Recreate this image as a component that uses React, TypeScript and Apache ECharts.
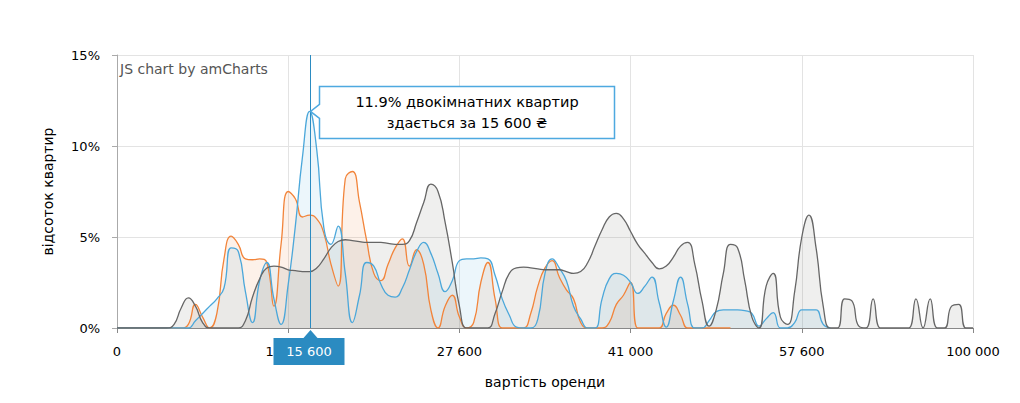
import React, { useEffect, useRef } from "react";
import * as echarts from "echarts";

// x positions are price categories (index along the price axis)
const tickLabels = ["0", "14 000", "27 600", "41 000", "57 600", "100 000"];
const labelEvery = 24;
const cursorIndex = 27;
const cursorPrice = "15 600";
const cursorValue = 11.9;

const grayValues = [
  0, 0, 0, 0, 0, 0, 0, 0, 0.2, 1.1,
  1.65, 1.2, 0.3, 0, 0, 0, 0, 0, 0.4, 1.7,
  2.7, 3.3, 3.4, 3.35, 3.2, 3.15, 3.1, 3.1, 3.3, 3.8,
  4.4, 4.75, 4.85, 4.8, 4.75, 4.7, 4.7, 4.7, 4.65, 4.6,
  4.6, 4.8, 5.8, 6.9, 7.9, 7.5, 5.8, 3.6, 1.2, 0,
  0, 0, 0, 0.8, 2.0, 3.0, 3.3, 3.35, 3.3, 3.25,
  3.2, 3.2, 3.2, 3.1, 3.0, 3.1, 3.6, 4.5, 5.4, 6.1,
  6.3, 6.0, 5.3, 4.6, 4.1, 3.6, 3.25, 3.4, 3.9, 4.5,
  4.7, 3.5, 1.5, 0.1, 1.0, 3.0, 4.6, 4.4, 2.6, 0.6,
  0, 2.3, 3.0, 0.6, 0.2, 2.0, 5.0, 6.2, 4.4, 1.2,
  0, 0, 1.6, 1.5, 0.1, 0, 1.6, 0, 0, 0,
  0, 0, 1.6, 0, 1.6, 0, 0, 1.2, 1.3, 0,
  0,
];

const orangeValues = [
  0, 0, 0, 0, 0, 0, 0, 0, 0, 0,
  0.2, 1.3, 0.6, 0, 0.8, 3.8, 5.05, 4.6, 3.8, 3.75,
  3.8, 3.6, 1.2, 4.6, 7.5, 7.1, 6.1, 6.2, 6.0, 5.2,
  3.5, 2.3, 8.2, 8.6, 6.9, 4.8, 3.0, 2.6, 3.5, 4.4,
  4.9, 3.4, 4.3, 3.5, 1.0, 0, 1.2, 1.8, 0.6, 0,
  0.3, 2.5, 3.6, 1.6, 0, 0, 0, 0, 0.8, 2.3,
  3.3, 3.7, 2.8, 2.1, 1.6, 0.3, 0, 0, 0, 0.3,
  1.3, 1.8, 2.5, 0, 0, 0, 0, 0.8, 1.25, 0.7,
  0, 0, 0, 0, 0, 0, 0,
];

const blueValues = [
  0, 0, 0, 0, 0, 0, 0, 0, 0, 0,
  0, 0.4, 0.8, 1.2, 1.6, 2.2, 4.4, 4.2, 2.0, 0.3,
  2.6, 3.6, 1.6, 0.2, 2.4, 5.6, 9.4, 11.9, 9.8, 5.5,
  4.6, 5.6, 3.0, 0.3, 1.8, 3.6, 3.4, 2.4, 1.8, 1.7,
  2.2, 3.2, 4.2, 4.7, 4.1, 3.0, 2.0, 2.6, 3.7, 3.8,
  3.8, 3.85, 3.8, 2.9, 1.6, 0.7, 0.05, 0, 0, 0.5,
  3.0, 3.8, 3.3, 2.6, 1.2, 0.5, 0, 0, 1.6, 2.7,
  3.0, 2.9, 2.5, 1.9, 2.3, 2.8, 1.4, 0.05, 1.5, 2.8,
  1.3, 0, 0, 0.4, 0.9, 1.0, 1.0, 1.0, 0.95, 0.8,
  0.1, 0.5, 0.85, 0, 0, 0.3, 1.0, 1.0, 1.0, 0.2,
  0,
];

const categories = grayValues.map((_, i) => String(i));

const FONT = "'DejaVu Sans', Verdana, sans-serif";
const CURSOR = "#2b8bc1";

export default function App() {
  const ref = useRef<HTMLDivElement>(null);

  useEffect(() => {
    if (!ref.current) return;
    const chart = echarts.init(ref.current, undefined, { renderer: "svg" });

    const areaSeries = (name: string, data: number[], line: string, fill: string) => ({
      name,
      type: "line",
      data,
      smooth: 0.5,
      symbol: "none",
      lineStyle: { color: line, width: 1.3 },
      itemStyle: { color: line },
      areaStyle: { color: fill },
      clip: true,
    });

    chart.setOption({
      animation: false,
      textStyle: { fontFamily: FONT },
      grid: { left: 117, right: 47, top: 55, bottom: 75 },
      xAxis: {
        type: "category",
        data: categories,
        boundaryGap: false,
        name: "вартість оренди",
        nameLocation: "middle",
        nameGap: 47,
        nameTextStyle: { fontSize: 14, color: "#000", fontFamily: FONT },
        axisLine: { lineStyle: { color: "#888", width: 1 } },
        axisTick: { show: true, interval: labelEvery - 1, length: 5, lineStyle: { color: "#888" } },
        axisLabel: {
          interval: labelEvery - 1,
          margin: 17,
          fontSize: 13,
          color: "#000",
          fontFamily: FONT,
          formatter: (_v: string, idx: number) => tickLabels[Math.round(idx / labelEvery)] ?? "",
        },
        splitLine: { show: true, interval: labelEvery - 1, lineStyle: { color: "#e3e3e3" } },
      },
      yAxis: {
        type: "value",
        min: 0,
        max: 15,
        interval: 5,
        name: "відсоток квартир",
        nameLocation: "middle",
        nameGap: 62,
        nameTextStyle: { fontSize: 14, color: "#000", fontFamily: FONT },
        axisLine: { show: true, lineStyle: { color: "#aaa" } },
        axisTick: { show: true, length: 5, lineStyle: { color: "#aaa" } },
        axisLabel: { formatter: "{value}%", fontSize: 13, color: "#000", margin: 17, fontFamily: FONT },
        splitLine: { show: true, lineStyle: { color: "#e3e3e3" } },
      },
      series: [
        areaSeries("однокімнатні", orangeValues, "#f2843a", "rgba(240,136,62,0.16)"),
        areaSeries("двокімнатні", blueValues, "#4ba7da", "rgba(74,168,216,0.15)"),
        areaSeries("трикімнатні", grayValues, "#666666", "rgba(120,120,110,0.17)"),
      ],
    });

    const peak = chart.convertToPixel({ xAxisIndex: 0, yAxisIndex: 0 }, [String(cursorIndex), cursorValue]) as number[];
    const top = chart.convertToPixel({ xAxisIndex: 0, yAxisIndex: 0 }, [String(cursorIndex), 15]) as number[];
    const bottom = chart.convertToPixel({ xAxisIndex: 0, yAxisIndex: 0 }, [String(cursorIndex), 0]) as number[];
    const px = Math.round(peak[0]) + 0.5;
    const py = peak[1];
    const L = px + 9;
    const R = L + 295;
    const T = py - 25;
    const B = py + 27;

    chart.setOption({
      graphic: [
        {
          type: "text",
          left: 120,
          top: 62,
          style: { text: "JS chart by amCharts", fontSize: 14, fill: "#555", fontFamily: FONT },
          z: 50,
        },
        {
          type: "line",
          shape: { x1: px, y1: top[1], x2: px, y2: bottom[1] },
          style: { stroke: CURSOR, lineWidth: 1 },
          z: 60,
        },
        {
          type: "polygon",
          shape: {
            points: [
              [L, T], [R, T], [R, B], [L, B], [L, py + 7], [px, py], [L, py - 7],
            ],
          },
          style: { fill: "#fff", stroke: "#4ea9e0", lineWidth: 1.5 },
          z: 70,
        },
        {
          type: "text",
          x: (L + R) / 2,
          y: py - 9,
          style: {
            text: cursorValue.toFixed(1) + "% двокімнатних квартир",
            fontSize: 14.5,
            fill: "#000",
            align: "center",
            verticalAlign: "middle",
            fontFamily: FONT,
          },
          z: 71,
        },
        {
          type: "text",
          x: (L + R) / 2,
          y: py + 12,
          style: {
            text: "здається за " + cursorPrice + " ₴",
            fontSize: 14.5,
            fill: "#000",
            align: "center",
            verticalAlign: "middle",
            fontFamily: FONT,
          },
          z: 71,
        },
        {
          type: "polygon",
          shape: { points: [[px - 7, bottom[1] + 10], [px, bottom[1] + 2], [px + 7, bottom[1] + 10]] },
          style: { fill: CURSOR },
          z: 80,
        },
        {
          type: "rect",
          shape: { x: px - 37, y: bottom[1] + 10, width: 71, height: 27 },
          style: { fill: CURSOR },
          z: 80,
        },
        {
          type: "text",
          x: px - 1.5,
          y: bottom[1] + 23.5,
          style: {
            text: cursorPrice,
            fontSize: 13,
            fill: "#fff",
            align: "center",
            verticalAlign: "middle",
            fontFamily: FONT,
          },
          z: 81,
        },
      ],
    });

    return () => chart.dispose();
  }, []);

  return (
    <div
      ref={ref}
      style={{ position: "fixed", left: 0, top: 0, width: 1020, height: 403, background: "#fff" }}
    />
  );
}
